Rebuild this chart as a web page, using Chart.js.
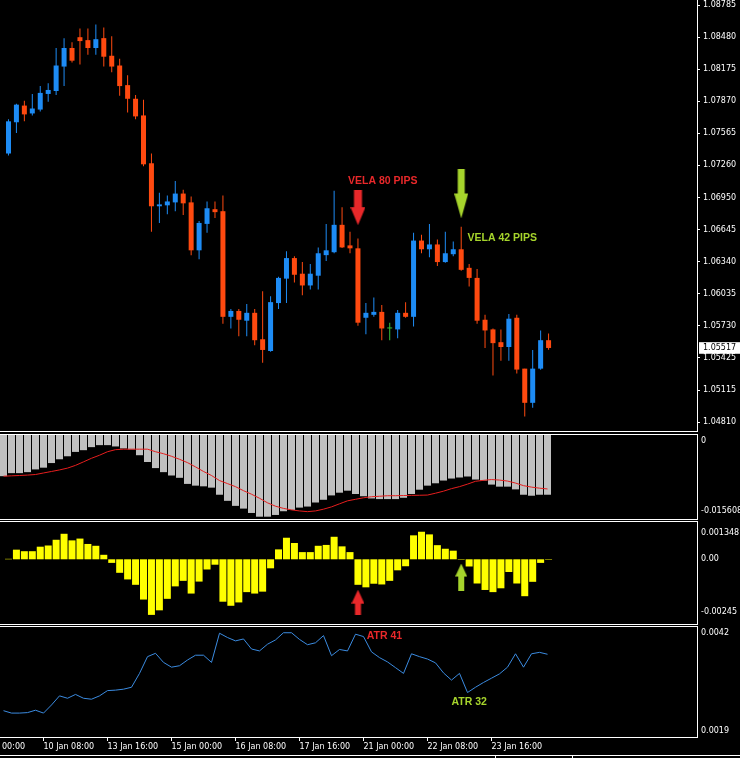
<!DOCTYPE html>
<html><head><meta charset="utf-8">
<script src="https://cdn.jsdelivr.net/npm/chart.js@4.4.1/dist/chart.umd.min.js"></script>
<style>
html,body{margin:0;padding:0;background:#000;width:740px;height:758px;overflow:hidden}
.p{position:absolute;left:0;width:740px}
.b{position:absolute;left:-1px;width:699px;border:1px solid #fff;border-left:none;box-sizing:border-box;pointer-events:none}
</style></head><body>
<div class="p" style="top:0;height:431px"><canvas id="cPrice"></canvas></div>
<div class="p" style="top:435px;height:82px"><canvas id="cMacd"></canvas></div>
<div class="p" style="top:522px;height:101px"><canvas id="cOsma"></canvas></div>
<div class="p" style="top:627px;height:131px"><canvas id="cAtr"></canvas></div>
<div class="b" style="top:-1px;height:433px"></div>
<div class="b" style="top:434px;height:86px"></div>
<div class="b" style="top:521px;height:104px"></div>
<div class="b" style="top:626px;height:112px"></div>
<div style="position:absolute;left:0;top:755px;width:740px;height:1px;background:#fff"></div>
<div style="position:absolute;left:495px;top:755px;width:78px;height:4px;border-left:1px solid #fff;border-right:1px solid #fff;box-sizing:border-box"></div>
<script>
// ---------- DATA (EURUSD H4) ----------
const open = [1.07371,1.07669,1.07828,1.07753,1.07790,1.07939,1.07967,1.08200,1.08377,1.08480,
1.08452,1.08377,1.08471,1.08303,1.08210,1.08023,1.07893,1.07734,1.07278,1.06868,
1.06877,1.06905,1.06989,1.06905,1.06448,1.06700,1.06840,1.06821,1.05814,1.05870,
1.05777,1.05852,1.05600,1.05488,1.05945,1.06178,1.06374,1.06225,1.06113,1.06206,
1.06402,1.06430,1.06691,1.06495,1.06467,1.05805,1.05833,1.05861,1.05703,1.05694,
1.05852,1.05814,1.06541,1.06458,1.06504,1.06336,1.06411,1.06458,1.06281,1.06185,
1.05786,1.05694,1.05572,1.05526,1.05805,1.05320,1.04994,1.05320,1.05591];
const high = [1.07697,1.07846,1.07874,1.07939,1.08014,1.08042,1.08377,1.08471,1.08433,1.08564,
1.08564,1.08601,1.08573,1.08489,1.08275,1.08117,1.07930,1.07884,1.07371,1.06998,
1.06970,1.07110,1.07026,1.06961,1.06728,1.06914,1.06914,1.06970,1.05889,1.05889,
1.05936,1.05889,1.06057,1.06010,1.06197,1.06439,1.06392,1.06336,1.06318,1.06476,
1.06700,1.07017,1.06858,1.06625,1.06560,1.05945,1.05999,1.05926,1.05758,1.05880,
1.05954,1.06616,1.06597,1.06700,1.06551,1.06625,1.06532,1.06672,1.06318,1.06271,
1.05833,1.05703,1.05694,1.05842,1.05833,1.05320,1.05498,1.05684,1.05656];
const low = [1.07352,1.07567,1.07678,1.07734,1.07772,1.07865,1.07930,1.08014,1.08238,1.08219,
1.08312,1.08312,1.08200,1.08145,1.07921,1.07762,1.07697,1.07250,1.06625,1.06709,
1.06793,1.06821,1.06784,1.06402,1.06364,1.06616,1.06756,1.05749,1.05703,1.05628,
1.05628,1.05544,1.05376,1.05480,1.05889,1.05945,1.06141,1.06020,1.06075,1.06075,
1.06346,1.06420,1.06470,1.06420,1.05730,1.05647,1.05814,1.05591,1.05591,1.05609,
1.05805,1.05721,1.06420,1.06383,1.06299,1.06330,1.06392,1.06253,1.06103,1.05749,
1.05516,1.05255,1.05395,1.05395,1.05274,1.04863,1.04947,1.05310,1.05500];
const close = [1.07678,1.07837,1.07744,1.07800,1.07949,1.07977,1.08210,1.08377,1.08256,1.08443,
1.08377,1.08461,1.08294,1.08200,1.08014,1.07893,1.07725,1.07268,1.06868,1.06886,
1.06914,1.06989,1.06896,1.06448,1.06709,1.06849,1.06812,1.05814,1.05870,1.05786,
1.05852,1.05591,1.05498,1.05954,1.06185,1.06374,1.06215,1.06113,1.06225,1.06420,
1.06448,1.06691,1.06476,1.06467,1.05758,1.05852,1.05861,1.05703,1.05703,1.05852,
1.05814,1.06541,1.06458,1.06504,1.06336,1.06420,1.06458,1.06262,1.06185,1.05777,
1.05684,1.05563,1.05526,1.05796,1.05311,1.04994,1.05320,1.05591,1.05517];

const macd = [-0.00784,-0.00726,-0.00726,-0.00707,-0.00655,-0.00622,-0.00534,-0.00462,-0.00405,-0.00322,
-0.00289,-0.00231,-0.00193,-0.00193,-0.00218,-0.00256,-0.00276,-0.00385,-0.00514,-0.00630,
-0.00707,-0.00771,-0.00815,-0.00931,-0.00964,-0.00977,-0.01002,-0.01137,-0.01253,-0.01349,
-0.01401,-0.01484,-0.01555,-0.01555,-0.01522,-0.01451,-0.01426,-0.01382,-0.01362,-0.01285,
-0.01233,-0.01150,-0.01098,-0.01060,-0.01123,-0.01166,-0.01208,-0.01220,-0.01220,-0.01220,
-0.01195,-0.01123,-0.01041,-0.00964,-0.00919,-0.00867,-0.00829,-0.00809,-0.00790,-0.00848,
-0.00867,-0.00944,-0.00983,-0.00983,-0.01035,-0.01137,-0.01156,-0.01137,-0.01137];
const signal = [-0.00784,-0.00777,-0.00771,-0.00763,-0.00752,-0.00723,-0.00694,-0.00665,-0.00630,-0.00578,
-0.00511,-0.00443,-0.00385,-0.00318,-0.00279,-0.00270,-0.00270,-0.00270,-0.00270,-0.00318,
-0.00356,-0.00405,-0.00462,-0.00526,-0.00607,-0.00694,-0.00771,-0.00867,-0.00925,-0.00983,
-0.01060,-0.01127,-0.01204,-0.01291,-0.01355,-0.01397,-0.01426,-0.01445,-0.01459,-0.01445,
-0.01412,-0.01368,-0.01310,-0.01253,-0.01224,-0.01195,-0.01175,-0.01166,-0.01156,-0.01156,
-0.01152,-0.01149,-0.01147,-0.01143,-0.01108,-0.01069,-0.01021,-0.00983,-0.00935,-0.00881,
-0.00863,-0.00848,-0.00858,-0.00877,-0.00915,-0.00964,-0.00992,-0.01012,-0.01027];
const osma = [0.00002,0.000402,0.000338,0.000338,0.000526,0.000576,0.000815,0.001065,0.00079,0.000865,
0.00064,0.000564,0.000188,-0.00015,-0.000564,-0.00084,-0.001065,-0.00168,-0.00232,-0.00213,
-0.00165,-0.00113,-0.0009,-0.00143,-0.00093,-0.000425,-0.000226,-0.00177,-0.00194,-0.0018,
-0.00137,-0.00143,-0.00135,-0.000376,0.000414,0.0009,0.00068,0.0003,0.0003,0.000564,
0.0006,0.00094,0.00054,0.0003,-0.001065,-0.00117,-0.00102,-0.00105,-0.0009,-0.00046,
-0.00029,0.001,0.00115,0.00104,0.00059,0.00044,0.00036,-0.00002,-0.0003,-0.00101,
-0.00128,-0.00137,-0.00121,-0.00053,-0.00101,-0.00154,-0.00094,-0.00015,-0.00002];
const atr = [0.00245,0.00240,0.00240,0.00241,0.00246,0.00240,0.00257,0.00276,0.00271,0.00279,
0.00271,0.00269,0.00276,0.00287,0.00288,0.00290,0.00294,0.00323,0.00358,0.00365,
0.00346,0.00336,0.00339,0.00351,0.00361,0.00361,0.00346,0.00407,0.00398,0.00391,
0.00395,0.00374,0.00370,0.00384,0.00393,0.00408,0.00408,0.00394,0.00383,0.00387,
0.00402,0.00360,0.00373,0.00370,0.00405,0.00400,0.00368,0.00356,0.00347,0.00335,
0.00323,0.00364,0.00358,0.00353,0.00345,0.00324,0.00309,0.00323,0.00283,0.00294,
0.00304,0.00313,0.00322,0.00336,0.00364,0.00336,0.00364,0.00367,0.00363];

const priceTicks = [1.08785,1.08480,1.08175,1.07870,1.07565,1.07260,1.06950,1.06645,1.06340,1.06035,1.05730,1.05517,1.05425,1.05115,1.04810];
const lastPrice = 1.05517;
const xTickIndex = [-3,5,13,21,29,37,45,53,61];
const xTickLabels = ['9 Jan 00:00','10 Jan 08:00','13 Jan 16:00','15 Jan 00:00','16 Jan 08:00','17 Jan 16:00','21 Jan 00:00','22 Jan 08:00','23 Jan 16:00'];
const macdLabels = [[0,'0'],[-0.015608,'-0.015608']];
const osmaLabels = [[0.001348,'0.001348'],[0,'0.00'],[-0.00245,'-0.00245']];
const atrLabels = [[0.0042,'0.0042'],[0.0019,'0.0019']];
// annotations: [barIndex, value, text]
const priceArrows = [[44,1.06855,'red'],[57,1.06985,'green']];
const osmaArrows = [[44,-0.00179,'red'],[57,-0.00074,'green']];
const priceNotes = [[42.75,1.07111,'VELA 80 PIPS','red'],[57.8,1.06561,'VELA 42 PIPS','green']];
const atrNotes = [[45.4,0.00401,'ATR 41','red'],[56.0,0.00263,'ATR 32','green']];

// ---------- STYLE ----------
const UP='#1e8cf5', DOWN='#ff4a10', DOJI='#36c23a', RED='#e8282a', GREEN='#a6d42c';
const COL={red:RED,green:GREEN};
const X_MIN=-0.4375, X_MAX=86.6875;
const FONT='"DejaVu Sans"';
const idx = open.map((_,i)=>i);
const cColor = i => close[i]>open[i]?UP:(close[i]<open[i]?DOWN:DOJI);

function arrowImg(color, dir, sw, sh, hw, hh){
  const c=document.createElement('canvas'); c.width=hw; c.height=sh+hh;
  const g=c.getContext('2d'); g.fillStyle=color;
  const x0=(hw-sw)/2, cx=hw/2;
  if(dir==='down'){ g.fillRect(x0,0,sw,sh); g.beginPath(); g.moveTo(0,sh); g.lineTo(hw,sh); g.lineTo(cx,sh+hh); g.closePath(); g.fill(); }
  else { g.beginPath(); g.moveTo(cx,0); g.lineTo(hw,hh); g.lineTo(0,hh); g.closePath(); g.fill(); g.fillRect(x0,hh,sw,sh); }
  return c;
}
const priceArrowImgs = [arrowImg(RED,'down',8,17,15,18), arrowImg(GREEN,'down',7,24,14,25)];
const osmaArrowImgs = [arrowImg(RED,'up',6,11,13,14), arrowImg(GREEN,'up',6,14,12,13)];

function sideLabels(items){
  return {id:'sideLabels', afterDraw(chart){
    const {ctx, chartArea:a, scales:{y}} = chart;
    ctx.save(); ctx.font='8px '+FONT; ctx.fillStyle='#fff'; ctx.textBaseline='middle'; ctx.textAlign='left';
    items.forEach(([v,t])=>{ let py=y.getPixelForValue(v); py=Math.min(Math.max(py,a.top+6),a.bottom-6); ctx.fillText(t,a.right+4,py); });
    ctx.restore();
  }};
}
function notes(items){
  return {id:'notes', afterDatasetsDraw(chart){
    const {ctx, scales:{x,y}} = chart;
    ctx.save(); ctx.font='bold 10.5px "Liberation Sans"'; ctx.textBaseline='middle'; ctx.textAlign='left';
    items.forEach(([i,v,t,c])=>{ ctx.fillStyle=COL[c]; ctx.fillText(t,x.getPixelForValue(i),y.getPixelForValue(v)); });
    ctx.restore();
  }};
}

const base = {responsive:true, maintainAspectRatio:false, animation:false, events:[],
  plugins:{legend:{display:false}, tooltip:{enabled:false}}};
const xHidden = {type:'linear', min:X_MIN, max:X_MAX, offset:false, grid:{offset:false}, display:false};
const barCommon = {grouped:false, barPercentage:1, categoryPercentage:1, borderWidth:0, inflateAmount:0};

// ---------- PRICE ----------
new Chart(document.getElementById('cPrice'), {
  type:'bar',
  data:{datasets:[
    Object.assign({label:'wick', data:idx.map(i=>({x:i,y:[low[i],high[i]]})), backgroundColor:idx.map(cColor), barThickness:1, maxBarThickness:1}, barCommon),
    Object.assign({label:'body', data:idx.map(i=>({x:i,y:[open[i],close[i]]})), backgroundColor:idx.map(cColor), barThickness:5, maxBarThickness:5, minBarLength:1}, barCommon),
    {type:'scatter', label:'arrows', data:priceArrows.map(a=>({x:a[0],y:a[1]})), pointStyle:priceArrowImgs, pointRadius:3}
  ]},
  options:Object.assign({}, base, {
    layout:{padding:0},
    scales:{
      x:xHidden,
      y:{type:'linear', position:'right', min:1.04773, max:1.08787,
        afterBuildTicks:s=>{ s.ticks = priceTicks.map(v=>({value:v})); },
        afterFit:s=>{ s.width=43; s.paddingTop=0; s.paddingBottom=0; },
        border:{display:false},
        grid:{drawOnChartArea:false, drawTicks:true, tickLength:3, lineWidth:1,
          color:c=>(c.tick && c.tick.value===lastPrice)?'rgba(0,0,0,0)':'#fff'},
        ticks:{autoSkip:false, padding:3, font:{family:'DejaVu Sans', size:8},
          color:c=>(c.tick && c.tick.value===lastPrice)?'#000':'#fff',
          showLabelBackdrop:c=>!!(c.tick && c.tick.value===lastPrice),
          backdropColor:'#fff', backdropPadding:{top:1,bottom:1,left:4,right:8},
          callback:v=>v.toFixed(5)}
      }
    }
  }),
  plugins:[notes(priceNotes)]
});

// ---------- MACD ----------
new Chart(document.getElementById('cMacd'), {
  type:'bar',
  data:{datasets:[
    {type:'line', label:'signal', data:idx.map(i=>({x:i,y:signal[i]})), borderColor:'#e61e1e', borderWidth:1, pointRadius:0, tension:0},
    Object.assign({label:'macd', data:idx.map(i=>({x:i,y:macd[i]})), backgroundColor:'#c0c0c0', barThickness:7, maxBarThickness:7}, barCommon)
  ]},
  options:Object.assign({}, base, {
    layout:{padding:{right:43}},
    scales:{x:xHidden, y:{type:'linear', min:-0.015608, max:0, display:false}}
  }),
  plugins:[sideLabels(macdLabels)]
});

// ---------- OsMA ----------
new Chart(document.getElementById('cOsma'), {
  type:'bar',
  data:{datasets:[
    Object.assign({label:'osma', data:idx.map(i=>({x:i,y:osma[i]})), backgroundColor:'#ffff00', barThickness:7, maxBarThickness:7}, barCommon),
    {type:'scatter', label:'arrows', data:osmaArrows.map(a=>({x:a[0],y:a[1]})), pointStyle:osmaArrowImgs, pointRadius:3}
  ]},
  options:Object.assign({}, base, {
    layout:{padding:{right:43}},
    scales:{x:xHidden, y:{type:'linear', min:-0.00245, max:0.001348, display:false}}
  }),
  plugins:[sideLabels(osmaLabels)]
});

// ---------- ATR ----------
new Chart(document.getElementById('cAtr'), {
  type:'line',
  data:{datasets:[
    {label:'atr', data:idx.map(i=>({x:i,y:atr[i]})), borderColor:'#3b8be0', borderWidth:1, pointRadius:0, tension:0}
  ]},
  options:Object.assign({}, base, {
    layout:{padding:{right:43}},
    scales:{
      x:{type:'linear', min:X_MIN, max:X_MAX, position:'bottom', offset:false,
        afterBuildTicks:s=>{ s.ticks = xTickIndex.map(v=>({value:v})); },
        afterFit:s=>{ s.height=21; s.paddingLeft=0; s.paddingRight=0; },
        border:{display:false},
        grid:{drawOnChartArea:false, drawTicks:true, tickLength:4, color:'#fff', offset:false},
        ticks:{autoSkip:false, maxRotation:0, minRotation:0, align:'start', padding:1,
          color:'#fff', font:{family:'DejaVu Sans', size:8},
          callback:(v,k)=>xTickLabels[k]}
      },
      y:{type:'linear', min:0.0019, max:0.0042, display:false}
    }
  }),
  plugins:[sideLabels(atrLabels), notes(atrNotes)]
});
</script>
</body></html>
